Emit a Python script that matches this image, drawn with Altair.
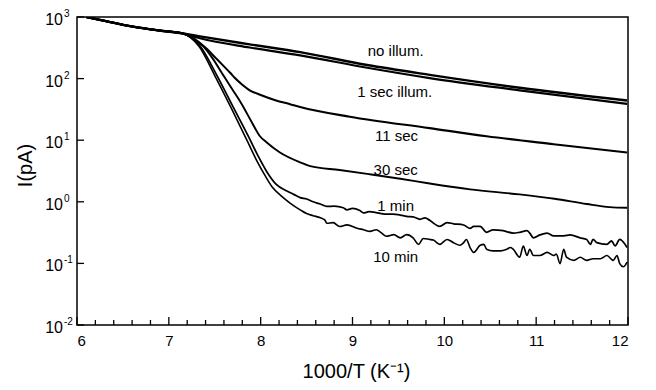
import altair as alt
import pandas as pd

W, H = 551, 308
FONT = "Liberation Sans"

# shared early part of every curve (1000/T, current in pA)
common_x = [6.10, 6.25, 6.61, 6.90, 7.15]
common_i = [1000, 897, 697, 603, 541]

noillum_x = [7.34, 7.88, 8.43, 9.16, 9.84, 10.82, 11.99]
noillum_i = [484, 360, 269, 166, 115, 71.1, 44.0]

sec1_x = [7.34, 7.88, 8.43, 9.16, 9.84, 10.82, 11.99]
sec1_i = [452, 320, 238, 150, 102, 64.6, 38.9]

sec11_x = [7.26, 7.40, 7.52, 7.60, 7.67, 7.72, 7.80, 7.88, 8.00, 8.16, 8.32, 8.43,
           8.97, 9.84, 10.46, 11.19, 11.99]
sec11_i = [457, 316, 209, 158, 123, 102, 79.4, 64.6, 54.3, 44.7, 38.5, 34.7,
           24.0, 15.7, 11.6, 8.61, 6.31]

sec30_x = [7.25, 7.37, 7.48, 7.59, 7.68, 7.78, 7.90, 7.99, 8.06, 8.21, 8.43, 8.54,
           8.86, 9.16, 9.52, 9.84, 10.28, 10.82, 11.20, 11.55, 11.80, 11.99]
sec30_i = [457, 339, 209, 115, 70.8, 41.7, 20.0, 11.7, 9.33, 6.31, 4.37, 3.80,
           3.28, 2.84, 2.37, 1.98, 1.59, 1.32, 1.12, 0.92, 0.82, 0.80]

min1_x = [7.34, 7.52, 7.70, 7.88, 7.97, 8.07, 8.17, 8.28, 8.36, 8.43, 8.50,
          8.57, 8.65, 8.72, 8.80, 8.90, 8.94, 9.00, 9.08, 9.12, 9.18,
          9.23, 9.30, 9.37, 9.44, 9.52, 9.59, 9.66, 9.735, 9.79, 9.84,
          9.95, 10.03, 10.10, 10.21, 10.28, 10.32, 10.39, 10.46, 10.53, 10.64,
          10.75, 10.82, 10.90, 10.93, 10.97, 11.04, 11.12, 11.19, 11.30, 11.37,
          11.48, 11.55, 11.59, 11.62, 11.66, 11.77, 11.82, 11.86, 11.91, 11.99]
min1_i = [339, 115, 34.7, 10.5, 5.62, 3.02, 1.91, 1.51, 1.32, 1.17, 1.11,
          1.00, 0.92, 0.84, 0.85, 0.80, 0.74, 0.78, 0.72, 0.66, 0.69,
          0.68, 0.65, 0.63, 0.63, 0.61, 0.58, 0.57, 0.52, 0.55, 0.50,
          0.40, 0.46, 0.44, 0.42, 0.37, 0.40, 0.40, 0.32, 0.35, 0.34,
          0.31, 0.32, 0.34, 0.31, 0.26, 0.29, 0.31, 0.28, 0.28, 0.29,
          0.26, 0.245, 0.204, 0.245, 0.217, 0.204, 0.231, 0.192, 0.245, 0.181]

min10_x = [7.33, 7.50, 7.68, 7.85, 7.96, 8.05, 8.13, 8.22, 8.32, 8.43,
           8.50, 8.57, 8.65, 8.70, 8.72, 8.79, 8.86, 8.94, 9.05, 9.12,
           9.19, 9.26, 9.31, 9.37, 9.45, 9.52, 9.59, 9.66, 9.72, 9.77,
           9.84, 9.88, 9.95, 10.03, 10.10, 10.17, 10.21, 10.24, 10.28, 10.32,
           10.39, 10.43, 10.46, 10.53, 10.61, 10.68, 10.72, 10.75, 10.82, 10.86,
           10.90, 10.93, 10.97, 11.04, 11.12, 11.19, 11.22, 11.26, 11.30, 11.33,
           11.41, 11.48, 11.55, 11.62, 11.70, 11.77, 11.84, 11.88, 11.91, 11.95,
           11.99]
min10_i = [331, 112, 33.1, 10.0, 4.57, 2.63, 1.70, 1.26, 0.955, 0.74,
           0.645, 0.596, 0.55, 0.505, 0.448, 0.459, 0.397, 0.422, 0.373, 0.352,
           0.331, 0.352, 0.316, 0.276, 0.293, 0.260, 0.293, 0.260, 0.204, 0.254,
           0.245, 0.239, 0.204, 0.245, 0.217, 0.197, 0.217, 0.245, 0.181, 0.151,
           0.197, 0.204, 0.170, 0.160, 0.160, 0.170, 0.181, 0.170, 0.126, 0.192,
           0.134, 0.170, 0.134, 0.134, 0.151, 0.134, 0.142, 0.099, 0.170, 0.126,
           0.112, 0.126, 0.112, 0.119, 0.119, 0.134, 0.112, 0.134, 0.099, 0.088,
           0.105]

series_names = ["no illum.", "1 sec illum.", "11 sec", "30 sec", "1 min", "10 min"]
series_widths = [2.4, 1.6, 1.6, 1.6, 1.6, 1.6]

label_text = ["no illum.", "1 sec illum.", "11 sec", "30 sec", "1 min", "10 min"]
label_x = [9.47, 9.46, 9.48, 9.47, 9.47, 9.47]
label_i = [282, 61.5, 11.9, 3.34, 0.86, 0.128]

x_major = [6, 7, 8, 9, 10, 11, 12]
x_minor = [6.2, 6.4, 6.6, 6.8, 7.2, 7.4, 7.6, 7.8, 8.2, 8.4, 8.6, 8.8,
           9.2, 9.4, 9.6, 9.8, 10.2, 10.4, 10.6, 10.8, 11.2, 11.4, 11.6, 11.8]
y_ticks = [0.01, 0.1, 1, 10, 100, 1000]
y_base = ["10", "10", "10", "10", "10", "10"]
y_exp = ["-2", "-1", "0", "1", "2", "3"]

rows = []
for name, xs, ys in [
    ("no illum.", noillum_x, noillum_i),
    ("1 sec illum.", sec1_x, sec1_i),
    ("11 sec", sec11_x, sec11_i),
    ("30 sec", sec30_x, sec30_i),
    ("1 min", min1_x, min1_i),
    ("10 min", min10_x, min10_i),
]:
    for a, b in zip(common_x + xs, common_i + ys):
        rows.append({"series": name, "x": a, "I": b})
df = pd.DataFrame(rows)

labels_df = pd.DataFrame({"label": label_text, "x": label_x, "I": label_i})
xmaj_df = pd.DataFrame({"x": x_major})
xmin_df = pd.DataFrame({"x": x_minor})
ytick_df = pd.DataFrame({"I": y_ticks, "base": y_base, "exp": y_exp})

xscale = alt.Scale(domain=[6, 12], nice=False, zero=False)
yscale = alt.Scale(type="log", domain=[0.01, 1000], nice=False)

xaxis = alt.Axis(values=x_major, format="d", labelFontSize=15, labelPadding=8,
                 ticks=False, domain=False, grid=False,
                 title="1000/T (K⁻¹)", titleFontSize=20, titleFontWeight="normal",
                 titleX=279, titleY=46, titleBaseline="middle", titleAlign="center")
yaxis = alt.Axis(labels=False, ticks=False, domain=False, grid=False,
                 title="I(pA)", titleAngle=270, titleX=-52, titleY=148,
                 titleBaseline="middle", titleAlign="center",
                 titleFontSize=20, titleFontWeight="normal")

X = alt.X("x:Q", scale=xscale, axis=xaxis)
Y = alt.Y("I:Q", scale=yscale, axis=yaxis)

lines = alt.Chart(df).mark_line(color="black", clip=True, strokeJoin="round",
                                interpolate="monotone").encode(
    x=X, y=Y, detail="series:N",
    size=alt.Size("series:N", scale=alt.Scale(domain=series_names, range=series_widths),
                  legend=None),
)

labels = alt.Chart(labels_df).mark_text(font=FONT, fontSize=15, color="black",
                                         align="center", baseline="middle").encode(
    x=X, y=Y, text="label:N")

xmaj = alt.Chart(xmaj_df).mark_rule(color="black", strokeWidth=1.3).encode(
    x=X, y=alt.value(H), y2=alt.value(H - 8))
xmin = alt.Chart(xmin_df).mark_rule(color="black", strokeWidth=1.3).encode(
    x=X, y=alt.value(H), y2=alt.value(H - 5))
ytk = alt.Chart(ytick_df).mark_rule(color="black", strokeWidth=1.3).encode(
    y=Y, x=alt.value(0), x2=alt.value(7))
ybase = alt.Chart(ytick_df).mark_text(font=FONT, fontSize=16, color="black",
                                      align="right", baseline="middle", dy=3).encode(
    y=Y, x=alt.value(-14), text="base:N")
yexp = alt.Chart(ytick_df).mark_text(font=FONT, fontSize=10, color="black",
                                     align="left", baseline="middle", dy=-3).encode(
    y=Y, x=alt.value(-13), text="exp:N")

chart = alt.layer(lines, labels, xmaj, xmin, ytk, ybase, yexp).properties(
    width=W, height=H,
    padding={"left": 69, "top": 9, "right": 20, "bottom": 57},
    autosize=alt.AutoSizeParams(type="none"),
).configure_view(stroke="black", strokeWidth=1.5).configure_axis(
    labelFont=FONT, titleFont=FONT, labelColor="black", titleColor="black"
)

chart.save("out.html", embed_options={"renderer": "svg", "actions": False})
